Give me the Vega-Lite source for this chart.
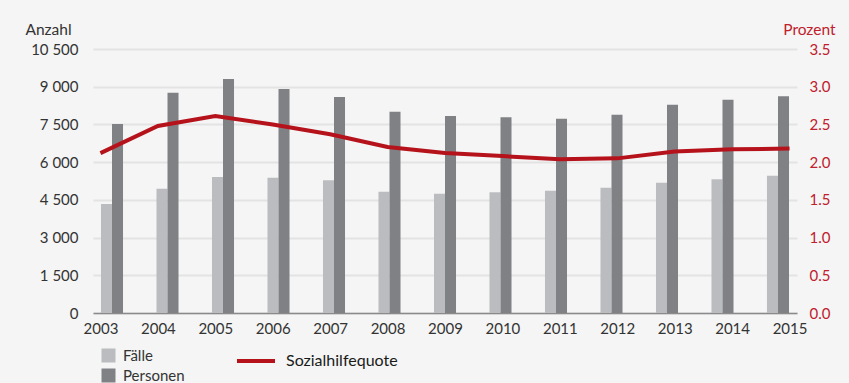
{
  "$schema": "https://vega.github.io/schema/vega-lite/v6.json",
  "width": 704,
  "height": 264,
  "autosize": {"type": "none"},
  "padding": {"left": 93, "top": 49, "right": 52, "bottom": 70},
  "background": "#f4f5f4",
  "config": {
    "view": {"stroke": null},
    "font": "Lato",
    "axis": {"labelFont": "Lato", "titleFont": "Lato", "labelFontSize": 15, "titleFontSize": 15.5, "labelColor": "#333333", "titleColor": "#333333", "titleFontWeight": "normal", "ticks": false},
    "legend": {"labelFont": "Lato", "labelFontSize": 15, "labelColor": "#333333"}
  },
  "data": {
    "values": [
      {"Jahr": "2003", "Fälle": 4335, "Personen": 7517, "Quote": 2.12},
      {"Jahr": "2004", "Fälle": 4945, "Personen": 8762, "Quote": 2.48},
      {"Jahr": "2005", "Fälle": 5409, "Personen": 9307, "Quote": 2.61},
      {"Jahr": "2006", "Fälle": 5382, "Personen": 8909, "Quote": 2.5},
      {"Jahr": "2007", "Fälle": 5276, "Personen": 8591, "Quote": 2.37},
      {"Jahr": "2008", "Fälle": 4825, "Personen": 8006, "Quote": 2.2},
      {"Jahr": "2009", "Fälle": 4746, "Personen": 7835, "Quote": 2.12},
      {"Jahr": "2010", "Fälle": 4799, "Personen": 7783, "Quote": 2.08},
      {"Jahr": "2011", "Fälle": 4865, "Personen": 7729, "Quote": 2.04},
      {"Jahr": "2012", "Fälle": 4984, "Personen": 7888, "Quote": 2.05},
      {"Jahr": "2013", "Fälle": 5183, "Personen": 8285, "Quote": 2.14},
      {"Jahr": "2014", "Fälle": 5316, "Personen": 8484, "Quote": 2.17},
      {"Jahr": "2015", "Fälle": 5461, "Personen": 8617, "Quote": 2.18}
    ]
  },
  "layer": [
    {
      "transform": [{"fold": ["Fälle", "Personen"], "as": ["Serie", "Anzahl"]}],
      "mark": {"type": "bar"},
      "encoding": {
        "x": {"field": "Jahr", "type": "nominal", "scale": {"paddingInner": 0.603, "paddingOuter": 0.144}, "axis": null},
        "xOffset": {"field": "Serie", "type": "nominal", "scale": {"paddingInner": 0, "paddingOuter": 0}},
        "y": {
          "field": "Anzahl", "type": "quantitative",
          "scale": {"domain": [0, 10500], "nice": false},
          "axis": {
            "orient": "left", "values": [0, 1500, 3000, 4500, 6000, 7500, 9000, 10500],
            "labelExpr": "replace(format(datum.value, ','), ',', ' ')",
            "grid": true, "gridColor": "#e2e3e2", "gridWidth": 2,
            "domain": false, "labelPadding": 15,
            "title": "Anzahl", "titleAngle": 0, "titleAlign": "left", "titleBaseline": "middle",
            "titleX": -68, "titleY": -20
          }
        },
        "color": {
          "field": "Serie", "type": "nominal",
          "scale": {"domain": ["Fälle", "Personen"], "range": ["#bbbcbf", "#808184"]},
          "legend": {"orient": "none", "legendX": 8, "legendY": 299, "title": null, "symbolType": "square", "symbolSize": 196, "symbolStrokeWidth": 0, "rowPadding": 4, "labelOffset": 7}
        }
      }
    },
    {
      "mark": {"type": "line", "strokeWidth": 4},
      "encoding": {
        "x": {
          "field": "Jahr", "type": "nominal",
          "scale": {"type": "point", "padding": 0.13},
          "axis": {"labelAngle": 0, "domain": true, "domainColor": "#8a8a8a", "domainWidth": 1.5, "labelPadding": 8, "title": null, "grid": false}
        },
        "y": {
          "field": "Quote", "type": "quantitative",
          "scale": {"domain": [0, 3.5], "nice": false},
          "axis": {
            "orient": "right", "values": [0, 0.5, 1, 1.5, 2, 2.5, 3, 3.5], "format": ".1f",
            "grid": false, "domain": false, "labelPadding": 12, "labelColor": "#c0202c",
            "title": "Prozent", "titleColor": "#c0202c", "titleAngle": 0, "titleAlign": "right", "titleBaseline": "middle",
            "titleX": 38, "titleY": -20
          }
        },
        "stroke": {
          "datum": "Sozialhilfequote", "type": "nominal",
          "scale": {"range": ["#b5121b"]},
          "legend": {"orient": "none", "legendX": 142, "legendY": 291, "title": null, "symbolType": "stroke", "symbolSize": 1444, "symbolStrokeWidth": 4, "labelOffset": 9, "labelColor": "#1a1a1a", "labelFontSize": 16, "labelFontWeight": "normal"}
        }
      }
    }
  ],
  "resolve": {"scale": {"x": "independent", "y": "independent"}}
}
